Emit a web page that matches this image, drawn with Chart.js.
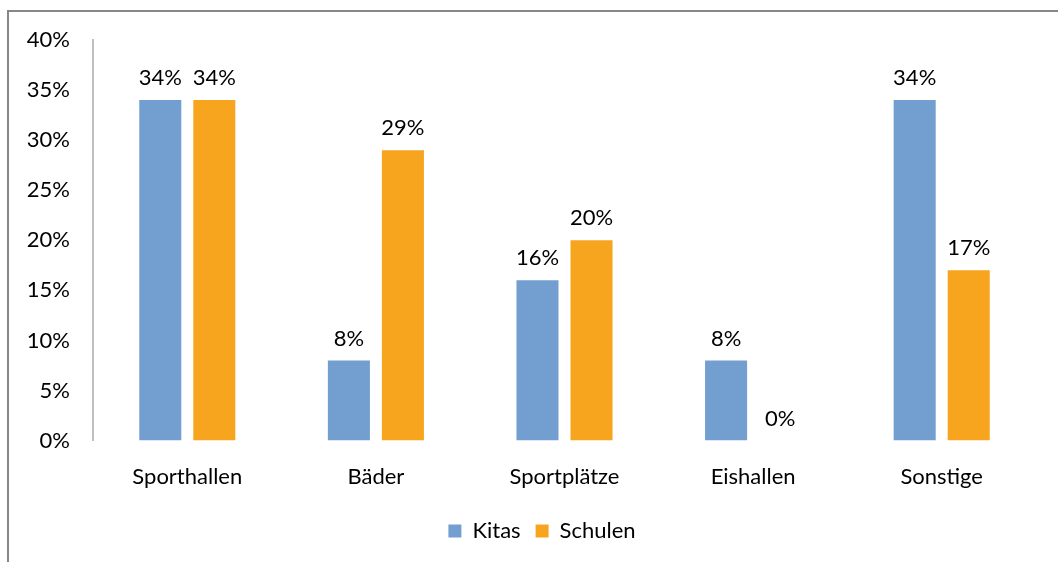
<!DOCTYPE html>
<html>
<head>
<meta charset="utf-8">
<script src="https://cdn.jsdelivr.net/npm/chart.js@4"></script>
<style>
  html, body { margin: 0; padding: 0; background: #fff; }
  #wrap { position: relative; width: 1058px; height: 562px; overflow: hidden; }
  #frame { position: absolute; left: 7px; top: 10px; width: 1100px; height: 600px;
           border-top: 2px solid #878787; border-left: 2px solid #878787; }
  canvas { position: absolute; left: 0; top: 0; }
</style>
</head>
<body>
<div id="wrap">
  <div id="frame"></div>
  <canvas id="chart" width="1058" height="562"></canvas>
</div>
<script>
const categories = ["Sporthallen", "Bäder", "Sportplätze", "Eishallen", "Sonstige"];
const kitas = [34, 8, 16, 8, 34];
const schulen = [34, 29, 20, 0, 17];
const yTicks = [0, 5, 10, 15, 20, 25, 30, 35, 40];

const FONT = "Lato, 'Open Sans', sans-serif";
const SIZE = 22;

// draws the value label above each bar
const barLabels = {
    id: "barLabels",
    afterDatasetsDraw(chart) {
        const ctx = chart.ctx;
        ctx.save();
        ctx.font = SIZE + "px " + FONT;
        ctx.fillStyle = "#000";
        ctx.textAlign = "center";
        ctx.textBaseline = "bottom";
        chart.data.datasets.forEach((ds, i) => {
            chart.getDatasetMeta(i).data.forEach((bar, j) => {
                ctx.fillText(ds.data[j] + "%", bar.x, bar.y - 11);
            });
        });
        ctx.restore();
    }
};

// legend in the original sits centred under the plot, not the whole canvas
const legendShift = {
    id: "legendShift",
    afterLayout(chart) {
        chart.legend.left += 48;
    }
};

new Chart(document.getElementById("chart"), {
    type: "bar",
    data: {
        labels: categories,
        datasets: [
            { label: "Kitas", data: kitas, backgroundColor: "#729fcf" },
            { label: "Schulen", data: schulen, backgroundColor: "#f7a51f" }
        ]
    },
    options: {
        responsive: false,
        animation: false,
        devicePixelRatio: 1,
        categoryPercentage: 0.573,
        barPercentage: 0.778,
        layout: { padding: { top: 40, right: 22, left: 0, bottom: 10 } },
        scales: {
            x: {
                grid: { display: false },
                border: { display: false },
                ticks: { color: "#000", font: { family: FONT, size: SIZE }, padding: 15 }
            },
            y: {
                min: 0,
                max: 40,
                afterBuildTicks(scale) { scale.ticks = yTicks.map(v => ({ value: v })); },
                afterFit(scale) { scale.width = 93; },
                grid: { display: false },
                border: { display: true, color: "#bfbfbf", width: 2 },
                ticks: {
                    color: "#000",
                    font: { family: FONT, size: SIZE },
                    padding: 15,
                    callback: v => v + "%"
                }
            }
        },
        plugins: {
            legend: {
                position: "bottom",
                labels: {
                    color: "#000",
                    font: { family: FONT, size: SIZE },
                    boxWidth: 13,
                    boxHeight: 13,
                    padding: 15
                }
            },
            tooltip: { enabled: false }
        }
    },
    plugins: [barLabels, legendShift]
});
</script>
</body>
</html>
